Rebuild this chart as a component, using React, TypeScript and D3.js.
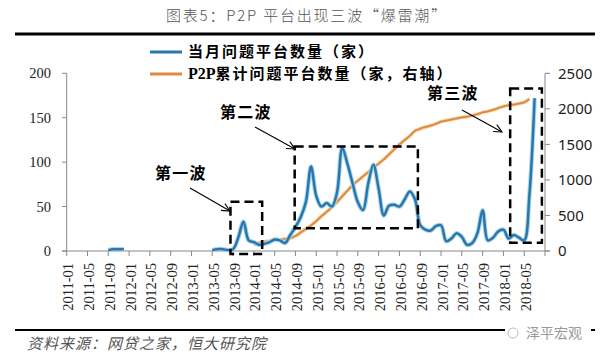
import React from "react";
import * as d3 from "d3";

const W = 606;
const H = 355;

// month index 0 = 2011-01
const tickLabels = [
  "2011-01","2011-05","2011-09","2012-01","2012-05","2012-09","2013-01","2013-05","2013-09",
  "2014-01","2014-05","2014-09","2015-01","2015-05","2015-09","2016-01","2016-05","2016-09",
  "2017-01","2017-05","2017-09","2018-01","2018-05",
];

const leftTicks = [0, 50, 100, 150, 200];
const rightTicks = [0, 500, 1000, 1500, 2000, 2500];

// monthly problem platforms (left axis), index 0..90 (2011-01 .. 2018-07)
const monthly: (number | null)[] = [
  null, null, null, null, null, null, null, null,
  1, 2, 2, 2,
  null, null, null, null, null, null, null, null, null, null, null, null, null, null, null, null,
  1, 2, 2, 1,
  2, 15, 33, 12, 10, 7, 8, 10, 13, 12, 9, 18, 27, 38, 55, 95, 62, 50, 54, 50, 66, 116, 98, 76,
  55, 46, 76, 97, 70, 40, 51, 52, 50, 58, 67, 58, 29, 24, 23, 28, 29, 11, 14, 20, 16, 7, 9, 20,
  46, 12, 15, 22, 24, 14, 18, 15, 12, 63, 172,
];

// cumulative problem platforms (right axis), starting at month index 36 (2014-01)
const cumulativeStart = 36;
const cumulative: number[] = [
  90, 115, 130, 140, 150, 160, 170, 180, 210, 260, 310, 360, 420, 490, 550, 615, 690, 770, 850,
  925, 990, 1050, 1110, 1170, 1230, 1290, 1360, 1430, 1500, 1560, 1620, 1690, 1720, 1745, 1765,
  1790, 1820, 1835, 1850, 1865, 1880, 1890, 1905, 1925, 1950, 1965, 1985, 2010, 2035, 2050, 2060,
  2075, 2090, 2140,
];

// wave boxes in data units: [month start, month end, left-axis low, left-axis high]
const waves = [
  { name: "第一波", m0: 31.5, m1: 37.6, v0: -3.4, v1: 55.4 },
  { name: "第二波", m0: 43.85, m1: 67.55, v0: 25.5, v1: 117.6 },
  { name: "第三波", m0: 85.3, m1: 91.4, v0: 9.3, v1: 182.8 },
];

const CJK = "'Noto Sans CJK SC', 'Noto Sans', sans-serif";
const SERIF = "'Liberation Serif', 'DejaVu Serif', serif";

export default function App() {
  const x = d3.scaleLinear().domain([0, 92]).range([66.7, 545]);
  const yL = d3.scaleLinear().domain([0, 200]).range([251, 73.3]);
  const yR = d3.scaleLinear().domain([0, 2500]).range([251, 73.3]);

  const blueLine = d3
    .line<number | null>()
    .defined((d) => d !== null)
    .x((_, i) => x(i))
    .y((d) => yL(d as number))
    .curve(d3.curveCatmullRom.alpha(0.5));

  const orangeLine = d3
    .line<number>()
    .x((_, i) => x(i + cumulativeStart))
    .y((d) => yR(d))
    .curve(d3.curveCatmullRom.alpha(0.5));

  const xTicks = tickLabels.map((_, k) => k * 4);

  // annotation label / arrow layout (pixels)
  const labels = [
    { t: "第一波", x: 155, y: 173, ax0: 190, ay0: 188, ax1: 230, ay1: 211 },
    { t: "第二波", x: 220, y: 112, ax0: 255, ay0: 127, ax1: 295, ay1: 149 },
    { t: "第三波", x: 427, y: 93, ax0: 462, ay0: 110, ax1: 502, ay1: 132 },
  ];

  const arrowHead = (x0: number, y0: number, x1: number, y1: number) => {
    const a = Math.atan2(y1 - y0, x1 - x0);
    const L = 9;
    const s = 0.45;
    const p1 = [x1 - L * Math.cos(a - s), y1 - L * Math.sin(a - s)];
    const p2 = [x1 - L * Math.cos(a + s), y1 - L * Math.sin(a + s)];
    return `M${p1[0]},${p1[1]}L${x1},${y1}L${p2[0]},${p2[1]}`;
  };

  return (
    <svg
      width={W}
      height={H}
      style={{ position: "absolute", left: 0, top: 0, background: "#fff" }}
    >
      <rect width={W} height={H} fill="#fff" />
      {/* title */}
      <text
        x={166}
        y={16}
        dy="0.36em"
        fontFamily={CJK}
        fontSize={15}
        fontWeight={300}
        letterSpacing={1.8}
        fill="#555"
      >
        图表5：P2P 平台出现三波“爆雷潮”
      </text>
      <line x1={15} x2={595} y1={34} y2={34} stroke="#000" strokeWidth={3} />

      {/* axes */}
      <line x1={66.7} x2={66.7} y1={73.3} y2={251} stroke="#888" strokeWidth={1} />
      <line x1={545} x2={545} y1={73.3} y2={251} stroke="#888" strokeWidth={1} />
      <line x1={62} x2={550} y1={251} y2={251} stroke="#888" strokeWidth={1} />
      {leftTicks.map((t) => (
        <g key={"l" + t}>
          <line x1={62} x2={66.7} y1={yL(t)} y2={yL(t)} stroke="#888" />
          <text
            x={51}
            y={yL(t)}
            dy="0.35em"
            textAnchor="end"
            fontFamily={SERIF}
            fontSize={14.5}
            fill="#222"
          >
            {t}
          </text>
        </g>
      ))}
      {rightTicks.map((t) => (
        <g key={"r" + t}>
          <line x1={545} x2={550} y1={yR(t)} y2={yR(t)} stroke="#888" />
          <text
            x={558}
            y={yR(t)}
            dy="0.35em"
            textAnchor="start"
            fontFamily="'Noto Sans', sans-serif"
            fontSize={15}
            fill="#222"
          >
            {t}
          </text>
        </g>
      ))}
      {xTicks.map((m, k) => (
        <g key={"x" + m}>
          <line x1={x(m)} x2={x(m)} y1={251} y2={256} stroke="#888" />
          <text
            transform={`translate(${x(m) + 1.5},263) rotate(-90)`}
            dy="0.35em"
            textAnchor="end"
            fontFamily={SERIF}
            fontSize={14.5}
            fill="#222"
          >
            {tickLabels[k]}
          </text>
        </g>
      ))}
      <line x1={545} x2={545} y1={251} y2={256} stroke="#888" />

      {/* series */}
      <path d={orangeLine(cumulative) || ""} fill="none" stroke="#f4c899" strokeWidth={3.5} />
      <path d={orangeLine(cumulative) || ""} fill="none" stroke="#de8a3c" strokeWidth={1.8} />
      <path d={blueLine(monthly) || ""} fill="none" stroke="#add6ec" strokeWidth={4.5} />
      <path d={blueLine(monthly) || ""} fill="none" stroke="#2878ae" strokeWidth={2.5} />

      {/* wave boxes */}
      {waves.map((w) => (
        <rect
          key={w.name}
          x={x(w.m0)}
          y={yL(w.v1)}
          width={x(w.m1) - x(w.m0)}
          height={yL(w.v0) - yL(w.v1)}
          fill="none"
          stroke="#000"
          strokeWidth={2.5}
          strokeDasharray="9,5"
        />
      ))}

      {/* annotations */}
      {labels.map((l) => (
        <g key={l.t}>
          <text
            x={l.x}
            y={l.y}
            dy="0.36em"
            fontFamily={CJK}
            fontWeight={700}
            fontSize={16}
            letterSpacing={1.2}
            fill="#000"
          >
            {l.t}
          </text>
          <line x1={l.ax0} y1={l.ay0} x2={l.ax1} y2={l.ay1} stroke="#000" strokeWidth={1.1} />
          <path d={arrowHead(l.ax0, l.ay0, l.ax1, l.ay1)} fill="none" stroke="#000" strokeWidth={1.1} />
        </g>
      ))}

      {/* legend */}
      <line x1={150} x2={182} y1={52} y2={52} stroke="#2878ae" strokeWidth={3} />
      <line x1={150} x2={182} y1={74} y2={74} stroke="#de8a3c" strokeWidth={3} />
      <text
        x={188}
        y={52}
        dy="0.36em"
        fontFamily={CJK}
        fontWeight={700}
        fontSize={15}
        letterSpacing={2}
        fill="#000"
      >
        当月问题平台数量（家）
      </text>
      <text
        x={188}
        y={74}
        dy="0.36em"
        fontFamily={CJK}
        fontWeight={700}
        fontSize={15}
        letterSpacing={2}
        fill="#000"
      >
        <tspan fontFamily={SERIF} fontSize={16} letterSpacing={0}>P2P</tspan>累计问题平台数量（家，右轴）
      </text>

      {/* footer */}
      <line x1={15} x2={595} y1={330} y2={330} stroke="#000" strokeWidth={2} />
      <text
        x={27}
        y={343.5}
        dy="0.36em"
        fontFamily={CJK}
        fontSize={15}
        letterSpacing={1}
        fontStyle="italic"
        fill="#555"
      >
        资料来源：网贷之家，恒大研究院
      </text>
      <rect x={505} y={324} width={86} height={18} fill="#fff" />
      <circle cx={513} cy={333} r={5} fill="none" stroke="#bbb" strokeWidth={1} />
      <text x={526} y={333} dy="0.36em" fontFamily={CJK} fontSize={14} fill="#999">
        泽平宏观
      </text>
    </svg>
  );
}
